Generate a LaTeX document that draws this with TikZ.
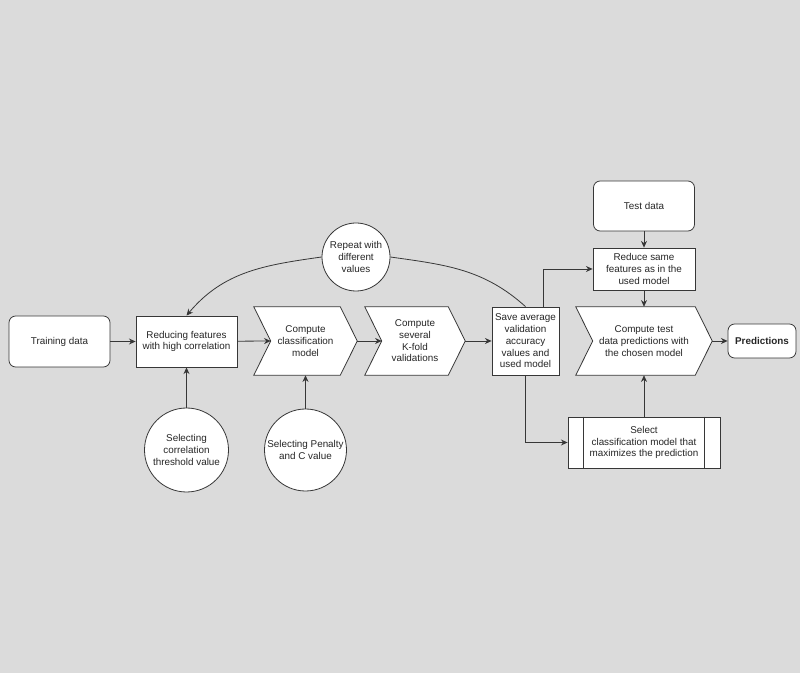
\documentclass[tikz,border=0pt]{standalone}
\usepackage{fontspec}
\setmainfont{Liberation Sans}
\usetikzlibrary{arrows.meta,backgrounds}
\definecolor{bggray}{RGB}{219,219,219}
\definecolor{linegray}{RGB}{55,55,55}
\newcommand{\pxu}{0.75pt}
\tikzset{
 every node/.style={font=\fontsize{7.4}{8.8}\selectfont,align=center,text=black!85},
 box/.style={draw=linegray,line width=0.6pt,fill=white,inner sep=1pt},
 rbox/.style={box,rounded corners=5pt},
 chev/.style={inner sep=1pt,minimum height=68*\pxu},
 circ/.style={box,circle,inner sep=0pt},
 arr/.style={draw=linegray,line width=0.6pt,-{Stealth[length=5pt,width=4.5pt]}},
 con/.style={draw=linegray,line width=0.6pt}
}
\begin{document}
\begin{tikzpicture}[x=0.75pt,y=-0.75pt]
\useasboundingbox(0,0)rectangle(800,673);
\node[rbox,minimum width=101*\pxu,minimum height=51*\pxu](train)at(59.5,341.5){Training data};
\node[box,minimum width=101*\pxu,minimum height=51*\pxu](reduce)at(186.5,341.5){Reducing features\\with high correlation};
\node[chev,minimum width=103*\pxu](classif)at(305.5,341){Compute\\classification\\model};
\node[chev,minimum width=100*\pxu](kfold)at(415,341){Compute\\several\\K-fold\\validations};
\node[box,minimum width=67*\pxu,minimum height=68*\pxu](save)at(525.5,341){Save average\\validation\\accuracy\\values and\\used model};
\node[rbox,minimum width=101*\pxu,minimum height=50*\pxu](test)at(644,206){Test data};
\node[box,minimum width=102*\pxu,minimum height=42*\pxu](same)at(644,269){Reduce same\\features as in the\\used model};
\node[chev,minimum width=136*\pxu](ctest)at(644,341){Compute test\\data predictions with\\the chosen model};
\node[rbox,minimum width=68*\pxu,minimum height=34*\pxu](pred)at(762,341){\textbf{Predictions}};
\node[box,minimum width=152*\pxu,minimum height=51*\pxu](select)at(644,442.5){Select\\classification model that\\maximizes the prediction};
\draw[con]([xshift=16*\pxu]select.north west)--([xshift=16*\pxu]select.south west);
\draw[con]([xshift=-16*\pxu]select.north east)--([xshift=-16*\pxu]select.south east);
\node[circ,minimum size=68*\pxu](rep)at(356,257){Repeat with\\different\\values};
\node[circ,minimum size=84*\pxu](corr)at(186.5,450){Selecting\\correlation\\threshold value};
\node[circ,minimum size=82*\pxu](pen)at(305.5,450){Selecting Penalty\\and C value};
\begin{scope}[on background layer]
\fill[bggray](0,0)rectangle(800,673);
\foreach \n in {classif,kfold,ctest}
 \filldraw[con,fill=white](\n.north west)--([xshift=-17*\pxu]\n.north east)--(\n.east)--([xshift=-17*\pxu]\n.south east)--(\n.south west)--([xshift=17*\pxu]\n.west)--cycle;
\end{scope}
\draw[arr](train)--(reduce);
\draw[arr](reduce)--([xshift=17*\pxu]classif.west);
\draw[arr](classif.east)--([xshift=17*\pxu]kfold.west);
\draw[arr](kfold.east)--(save.west);
\draw[arr](corr)--(reduce);
\draw[arr](pen)--(classif.south);
\draw[arr](test)--(same);
\draw[arr](same)--(ctest.north);
\draw[arr](select)--(ctest.south);
\draw[arr](ctest.east)--(pred.west);
\draw[arr]([xshift=17.5*\pxu]save.north)|-(same.west);
\draw[arr](save.south)|-(select.west);
\draw[con](rep.east)to[out=-8,in=138](save.north);
\draw[arr](rep.west)to[out=188,in=50](reduce.north);
\end{tikzpicture}
\end{document}
